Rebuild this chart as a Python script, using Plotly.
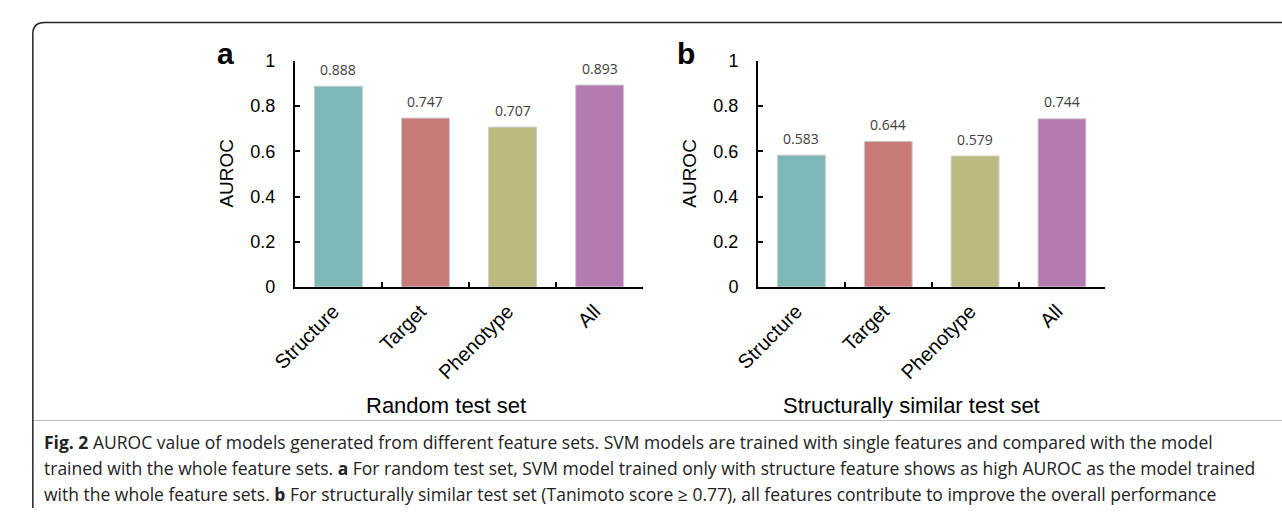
import plotly.graph_objects as go

W, H = 1282, 518

categories = ["Structure", "Target", "Phenotype", "All"]
random_auroc = [0.888, 0.747, 0.707, 0.893]
similar_auroc = [0.583, 0.644, 0.579, 0.744]
bar_colors = ["#7DB8B7", "#C97B7A", "#BBBA7E", "#B57AB2"]
panel_titles = ["Random test set", "Structurally similar test set"]
panel_letters = ["a", "b"]
y_title = "AUROC"
caption_lines = [
    "<b>Fig. 2</b> AUROC value of models generated from different feature sets. SVM models are trained with single features and compared with the model",
    "trained with the whole feature sets. <b>a</b> For random test set, SVM model trained only with structure feature shows as high AUROC as the model trained",
    "with the whole feature sets. <b>b</b> For structurally similar test set (Tanimoto score \u2265 0.77), all features contribute to improve the overall performance",
]


def px(x):
    return x / W


def py(y):
    return 1 - y / H


AX_FONT = "Liberation Sans, Arial, sans-serif"
fig = go.Figure()

panels = [
    dict(vals=random_auroc, xa="x", ya="y", x0=276, x1=631, title_x=430, letter_x=205, ytitle_x=206),
    dict(vals=similar_auroc, xa="x2", ya="y2", x0=748, x1=1102, title_x=904, letter_x=675, ytitle_x=678),
]

for i, p in enumerate(panels):
    fig.add_trace(go.Bar(
        x=categories, y=p["vals"], xaxis=p["xa"], yaxis=p["ya"],
        marker=dict(color=bar_colors, line=dict(color="#C9C9C9", width=1)),
        width=0.55, showlegend=False, hoverinfo="skip",
    ))
    for c, v in zip(categories, p["vals"]):
        fig.add_annotation(
            x=c, y=v, xref=p["xa"], yref=p["ya"], text=f"{v:.3f}",
            showarrow=False, yanchor="middle", yshift=17,
            font=dict(family="Open Sans, sans-serif", size=14, color="#404040"),
        )

ydom = [py(288), py(53)]
axis_common = dict(
    showline=True, linecolor="black", linewidth=2, mirror=False,
    ticks="inside", ticklen=5, tickwidth=2, tickcolor="black",
    showgrid=False, zeroline=False,
)
xaxis_common = dict(type="category", range=[-0.5, 3.5], tickson="boundaries",
                    tickangle=-45, ticklabelstandoff=3, ticklabelshift=-5,
                    tickfont=dict(family=AX_FONT, size=20, color="black"),
                    **axis_common)
yaxis_common = dict(range=[0, 1], dtick=0.2, ticklabelstandoff=14,
                    tickfont=dict(family=AX_FONT, size=18, color="black"),
                    **axis_common)

fig.update_layout(
    width=W, height=H, margin=dict(l=0, r=0, t=0, b=0),
    paper_bgcolor="white", plot_bgcolor="white",
    xaxis=dict(domain=[px(panels[0]["x0"]), px(panels[0]["x1"])], anchor="y", **xaxis_common),
    yaxis=dict(domain=ydom, anchor="x", **yaxis_common),
    xaxis2=dict(domain=[px(panels[1]["x0"]), px(panels[1]["x1"])], anchor="y2", **xaxis_common),
    yaxis2=dict(domain=ydom, anchor="x2", **yaxis_common),
)

for i, p in enumerate(panels):
    fig.add_annotation(x=px(p["title_x"]), y=py(411), xref="paper", yref="paper",
                       text=panel_titles[i], showarrow=False,
                       xanchor="center", yanchor="middle",
                       font=dict(family=AX_FONT, size=22, color="black"))
    fig.add_annotation(x=px(p["letter_x"]), y=py(45), xref="paper", yref="paper",
                       text=f"<b>{panel_letters[i]}</b>", showarrow=False,
                       xanchor="center", yanchor="middle",
                       font=dict(family=AX_FONT, size=30, color="black"))
    fig.add_annotation(x=px(p["ytitle_x"]), y=py(170), xref="paper", yref="paper",
                       text=y_title, showarrow=False, textangle=-90,
                       xanchor="center", yanchor="middle",
                       font=dict(family=AX_FONT, size=19, color="black"))

for k, line in enumerate(caption_lines):
    fig.add_annotation(x=px(18), y=py(449 + 27 * k), xref="paper", yref="paper",
                       text=line, showarrow=False, xanchor="left", yanchor="middle",
                       font=dict(family="Open Sans, sans-serif", size=17.5, color="#222222"))

# separator line between panels and caption
fig.add_shape(type="line", xref="paper", yref="paper",
              x0=px(9), x1=1, y0=py(427), y1=py(427),
              line=dict(color="#BBBBBB", width=1))

# rounded frame (top-left corner visible, runs off the right/bottom edges)
r = 12
path = (f"M {px(9)},0 L {px(9)},{py(13 + r)} "
        f"Q {px(9)},{py(13)} {px(9 + r)},{py(13)} L 1,{py(13)}")
fig.add_shape(type="path", xref="paper", yref="paper", path=path,
              line=dict(color="#222222", width=1.5))

fig.write_html(
    "out.html",
    config={"displayModeBar": False},
    post_script="document.body.style.margin='0';document.body.style.overflow='hidden';",
)
